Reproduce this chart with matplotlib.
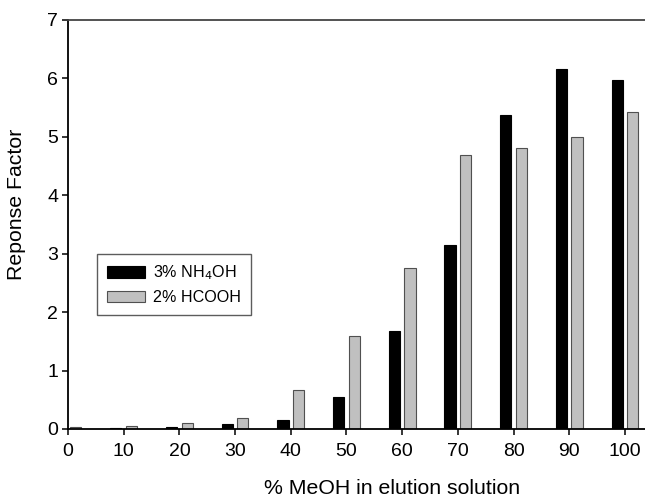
import numpy as np
import matplotlib
matplotlib.use("Agg")
import matplotlib.pyplot as plt

# data
meoh = [0, 10, 20, 30, 40, 50, 60, 70, 80, 90, 100]
nh4oh = [0.01, 0.02, 0.03, 0.09, 0.15, 0.54, 1.67, 3.15, 5.37, 6.16, 5.98]
hcooh = [0.04, 0.05, 0.10, 0.19, 0.66, 1.59, 2.75, 4.69, 4.81, 5.00, 5.42]
labels = ["3% NH$_4$OH", "2% HCOOH"]

plt.rcParams['font.family'] = ['Liberation Sans', 'DejaVu Sans']

fig = plt.figure(figsize=(6.45, 4.98), dpi=100)
ax = fig.add_axes([0.1054, 0.1386, 0.8946, 0.8213])

x = np.array(meoh)
ax.bar(x - 1.4, nh4oh, width=2.0, color="black", edgecolor="black",
       linewidth=0.8, label=labels[0])
ax.bar(x + 1.4, hcooh, width=2.0, color="#c0c0c0", edgecolor="#505050",
       linewidth=0.8, label=labels[1])

ax.set_xlim(0, 103.6)
ax.set_ylim(0, 7)
ax.set_xticks(meoh)
ax.set_yticks(range(0, 8))

ax.set_xlabel("% MeOH in elution solution", fontsize=15.3)
ax.set_ylabel("Reponse Factor", fontsize=15.3)
ax.xaxis.set_label_coords(0.5615, -0.122)
ax.yaxis.set_label_coords(-0.072, 0.548)

ax.tick_params(axis='both', labelsize=14, direction='out', length=4, width=1.1)
ax.tick_params(axis='x', pad=6)
ax.tick_params(axis='y', pad=3)

ax.spines['right'].set_visible(False)
for s in ['left', 'bottom', 'top']:
    ax.spines[s].set_linewidth(1.3)
ax.spines['top'].set_color('#444444')

leg = ax.legend(loc='lower left', bbox_to_anchor=(0.05, 0.279), borderaxespad=0,
                fontsize=11.6, fancybox=False, frameon=True, handlelength=2.4,
                handleheight=0.75, handletextpad=0.5, borderpad=0.6,
                labelspacing=0.5)
leg.get_frame().set_edgecolor('#333333')
leg.get_frame().set_linewidth(1.0)

fig.savefig("out.png", dpi=100)
